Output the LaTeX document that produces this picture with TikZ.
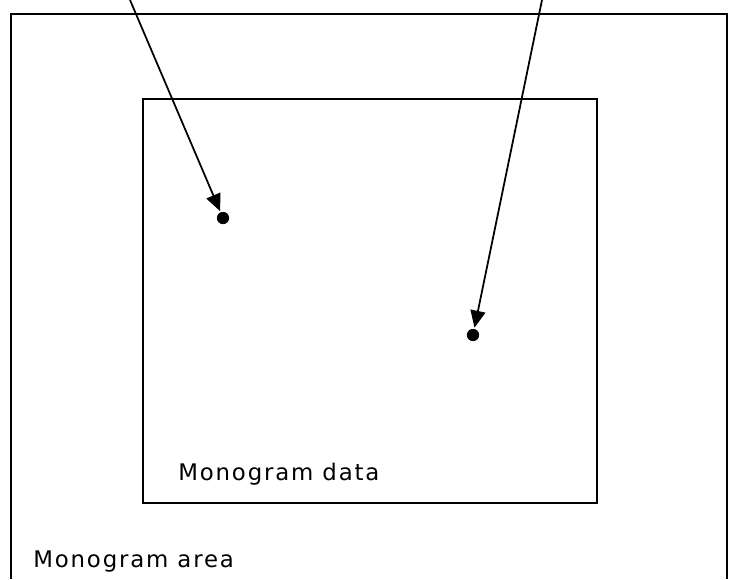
\documentclass[tikz,border=0pt]{standalone}
\usepackage{fontspec}
\setmainfont{DejaVu Sans}
\newfontfamily\labelfont[LetterSpace=8]{DejaVu Sans}
\usetikzlibrary{arrows.meta}

\newcommand*{\pagew}{734}
\newcommand*{\pageh}{579}

\begin{document}
\begin{tikzpicture}
[
	x=0.02cm, y=-0.02cm,
	frame/.style={line width=1.1pt},
	dot/.style={circle,draw,fill,inner sep=0pt,minimum size=2.3mm},
	pointer/.style={line width=1pt,-{Triangle[length=3.4mm,width=3mm]},shorten >=1.5mm},
	lbl/.style={anchor=base west,inner sep=0pt,font=\labelfont\fontsize{13}{15}\selectfont}
]

	\useasboundingbox (0,0) rectangle (\pagew,\pageh);

	% monogram area (open at the bottom)
	\draw[frame] (11,\pageh) -- (11,14) -- (727,14) -- (727,\pageh);
	\node[lbl] (area) at (33,567) {Monogram area};

	% monogram data
	\draw[line width=0.9pt] (143,99) rectangle (597,503);
	\node[lbl] (data) at (178,480) {Monogram data};

	% points
	\node[dot] (p1) at (223,218) {};
	\node[dot] (p2) at (473,335) {};

	% pointers
	\coordinate (s1) at (130,0);
	\coordinate (s2) at (542,0);
	\draw[pointer] (s1) -- (p1.center);
	\draw[pointer] (s2) -- (p2.center);

\end{tikzpicture}
\end{document}
